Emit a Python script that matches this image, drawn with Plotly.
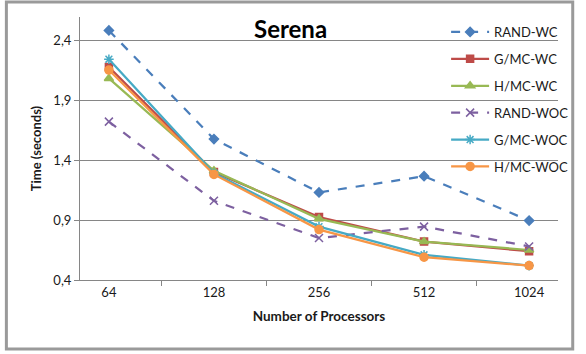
import plotly.graph_objects as go

processors = ["64", "128", "256", "512", "1024"]
rand_wc = [2.48, 1.575, 1.13, 1.265, 0.895]
gmc_wc = [2.175, 1.30, 0.925, 0.72, 0.64]
hmc_wc = [2.08, 1.31, 0.91, 0.72, 0.65]
rand_woc = [1.72, 1.06, 0.75, 0.845, 0.68]
gmc_woc = [2.24, 1.29, 0.845, 0.61, 0.52]
hmc_woc = [2.15, 1.28, 0.82, 0.59, 0.52]
y_ticks = [0.4, 0.9, 1.4, 1.9, 2.4]
y_tick_labels = ["0,4", "0,9", "1,4", "1,9", "2,4"]

series = [
    ("RAND-WC", rand_wc, "#4A7EBB", "dash", "diamond", 7),
    ("G/MC-WC", gmc_wc, "#BE4B48", "solid", "square", 7),
    ("H/MC-WC", hmc_wc, "#98B954", "solid", "triangle-up", 8),
    ("RAND-WOC", rand_woc, "#7D60A0", "dash", "x-thin-open", 8),
    ("G/MC-WOC", gmc_woc, "#46AAC5", "solid", "asterisk-open", 8),
    ("H/MC-WOC", hmc_woc, "#F79646", "solid", "circle", 8),
]

fig = go.Figure()
for i, (name, vals, color, dash, sym, sz) in enumerate(series):
    fig.add_trace(go.Scatter(
        x=processors, y=vals, name=name, mode="lines+markers",
        line=dict(color=color, width=2.25, dash=dash),
        marker=dict(symbol=sym, size=sz, color=color,
                    line=dict(color=color, width=1.5)),
        legendgroup=f"g{i}",
    ))

L, R, T, B = 80, 19, 17, 74
W, H = 586, 354
pw = W - L - R
ph = H - T - B


def px2x(px):
    return (px - L) / pw


def py2y(py):
    return (H - B - py) / ph


font_family = "Lato, 'Open Sans', sans-serif"
fig.update_layout(
    width=W, height=H,
    margin=dict(l=L, r=R, t=T, b=B),
    paper_bgcolor="white", plot_bgcolor="white",
    font=dict(family=font_family, size=13, color="#1a1a1a"),
    showlegend=True,
    legend=dict(x=px2x(453), y=py2y(17), xanchor="left", yanchor="top",
                bgcolor="rgba(0,0,0,0)", font=dict(size=13, color="#1a1a1a"),
                itemwidth=38, tracegroupgap=7),
    xaxis=dict(type="category", showgrid=False, showline=True,
               linecolor="#868686", linewidth=1, ticks="outside",
               tickson="boundaries", ticklen=5, tickcolor="#868686",
               tickfont=dict(size=13),
               title=dict(text="<b>Number of Processors</b>",
                          font=dict(size=13.5), standoff=12)),
    yaxis=dict(range=[0.4, 2.592], tickvals=y_ticks, ticktext=y_tick_labels,
               showgrid=True, gridcolor="#868686", gridwidth=1,
               showline=True, linecolor="#868686", linewidth=1,
               ticks="outside", ticklen=5, tickcolor="#868686",
               tickfont=dict(size=13), zeroline=False,
               title=dict(text="<b>Time (seconds)</b>",
                          font=dict(size=13), standoff=8)),
    annotations=[dict(text="<b>Serena</b>", x=px2x(294), y=py2y(29),
                      xref="paper", yref="paper", xanchor="center",
                      yanchor="middle", showarrow=False,
                      font=dict(size=24, color="black"))],
    shapes=[dict(type="rect", xref="paper", yref="paper",
                 x0=px2x(5), x1=px2x(582), y0=py2y(349), y1=py2y(2),
                 line=dict(color="#9A9A9A", width=3), layer="below")],
)
fig.write_html("out.html")
